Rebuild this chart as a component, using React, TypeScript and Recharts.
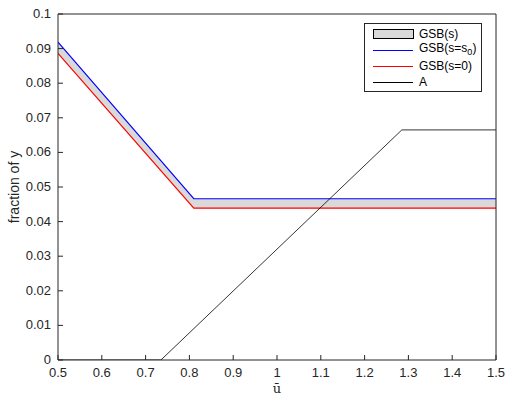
import { ComposedChart, Area, Line, XAxis, YAxis } from 'recharts'

// band between GSB(s=0) (low) and GSB(s=s0) (high)
const bandU = [0.5, 0.81, 1.5]
const gsbLow = [0.0886, 0.0439, 0.0439]
const gsbHigh = [0.0919, 0.0466, 0.0466]

// A curve
const aU = [0.5, 0.735, 1.285, 1.5]
const aVals = [0, 0, 0.0665, 0.0665]

const xTicks = [0.5, 0.6, 0.7, 0.8, 0.9, 1, 1.1, 1.2, 1.3, 1.4, 1.5]
const yTicks = [0, 0.01, 0.02, 0.03, 0.04, 0.05, 0.06, 0.07, 0.08, 0.09, 0.1]

const bandData = bandU.map((u, i) => ({ u, low: gsbLow[i], high: gsbHigh[i] }))
const aData = aU.map((u, i) => ({ u, a: aVals[i] }))

const AXIS = '#262626'
const FONT = '"Liberation Sans", Arial, sans-serif'

function BottomTick({ x, y, payload }: any) {
  return (
    <g>
      <line x1={x} y1={y} x2={x} y2={y - 5} stroke={AXIS} />
      <text x={x} y={y + 17} textAnchor="middle" fontSize={13} fill={AXIS} fontFamily={FONT}>
        {String(payload.value)}
      </text>
    </g>
  )
}

function TopTick({ x, y }: any) {
  return <line x1={x} y1={y} x2={x} y2={y + 5} stroke={AXIS} />
}

function LeftTick({ x, y, payload }: any) {
  return (
    <g>
      <line x1={x} y1={y} x2={x + 5} y2={y} stroke={AXIS} />
      <text x={x - 7} y={y + 4} textAnchor="end" fontSize={13} fill={AXIS} fontFamily={FONT}>
        {String(payload.value)}
      </text>
    </g>
  )
}

function RightTick({ x, y }: any) {
  return <line x1={x} y1={y} x2={x - 5} y2={y} stroke={AXIS} />
}

function Sample({ kind }: { kind: string }) {
  return (
    <svg width={42} height={14} style={{ marginRight: 4, flex: 'none' }}>
      {kind === 'band' ? (
        <rect x={0.5} y={2.5} width={40} height={9} fill="#d9d9d9" stroke="#000" />
      ) : (
        <line x1={0} y1={7.5} x2={40} y2={7.5} stroke={kind} strokeWidth={1.2} />
      )}
    </svg>
  )
}

function LegendBox() {
  const row = { display: 'flex', alignItems: 'center', height: 16 } as const
  return (
    <div
      style={{
        position: 'absolute',
        left: 364,
        top: 23,
        border: '1px solid #262626',
        background: 'white',
        width: 118,
        height: 69,
        padding: '2px 0 0 8px',
        boxSizing: 'border-box',
        fontFamily: FONT,
        fontSize: 12,
        color: '#000',
        lineHeight: 1,
      }}
    >
      <div style={row}>
        <Sample kind="band" />
        GSB(s)
      </div>
      <div style={row}>
        <Sample kind="#0000ff" />
        <span>
          GSB(s=s<sub style={{ fontSize: 9 }}>0</sub>)
        </span>
      </div>
      <div style={row}>
        <Sample kind="#ff0000" />
        GSB(s=0)
      </div>
      <div style={row}>
        <Sample kind="#000000" />
        A
      </div>
    </div>
  )
}

export default function App() {
  return (
    <div style={{ position: 'absolute', left: 0, top: 0, width: 507, height: 396, background: 'white' }}>
      <ComposedChart width={507} height={396} margin={{ top: 13, right: 10, bottom: 0, left: 0 }}>
        <XAxis
          dataKey="u"
          type="number"
          domain={[0.5, 1.5]}
          ticks={xTicks}
          allowDataOverflow
          height={36}
          stroke={AXIS}
          tickSize={0}
          tickMargin={0}
          tickLine={false}
          tick={<BottomTick />}
          interval={0}
        />
        <XAxis
          xAxisId="top"
          orientation="top"
          dataKey="u"
          type="number"
          domain={[0.5, 1.5]}
          ticks={xTicks}
          height={1}
          stroke={AXIS}
          tickSize={0}
          tickMargin={0}
          tickLine={false}
          tick={<TopTick />}
          interval={0}
        />
        <YAxis
          type="number"
          domain={[0, 0.1]}
          ticks={yTicks}
          allowDataOverflow
          width={58}
          stroke={AXIS}
          tickSize={0}
          tickMargin={0}
          tickLine={false}
          tick={<LeftTick />}
          interval={0}
        />
        <YAxis
          yAxisId="right"
          orientation="right"
          type="number"
          domain={[0, 0.1]}
          ticks={yTicks}
          width={1}
          stroke={AXIS}
          tickSize={0}
          tickMargin={0}
          tickLine={false}
          tick={<RightTick />}
          interval={0}
        />
        <Area
          data={bandData}
          dataKey={(d: any) => [d.low, d.high]}
          type="linear"
          fill="#d9d9d9"
          fillOpacity={1}
          stroke="none"
          isAnimationActive={false}
        />
        <Line data={bandData} dataKey="high" type="linear" stroke="#0000ff" strokeWidth={1.2} dot={false} isAnimationActive={false} />
        <Line data={bandData} dataKey="low" type="linear" stroke="#ff0000" strokeWidth={1.2} dot={false} isAnimationActive={false} />
        <Line data={aData} dataKey="a" type="linear" stroke="#000" strokeWidth={0.8} dot={false} isAnimationActive={false} />
      </ComposedChart>
      <LegendBox />
      <div
        style={{
          position: 'absolute',
          left: 14,
          top: 187,
          transform: 'translate(-50%, -50%) rotate(-90deg)',
          fontFamily: FONT,
          fontSize: 14,
          color: AXIS,
          whiteSpace: 'nowrap',
        }}
      >
        fraction of y
      </div>
      <div
        style={{
          position: 'absolute',
          left: 277,
          top: 388,
          transform: 'translate(-50%, -50%)',
          fontFamily: '"DejaVu Serif", serif',
          fontSize: 13,
          lineHeight: 1,
          color: AXIS,
        }}
      >
        ū
      </div>
    </div>
  )
}
